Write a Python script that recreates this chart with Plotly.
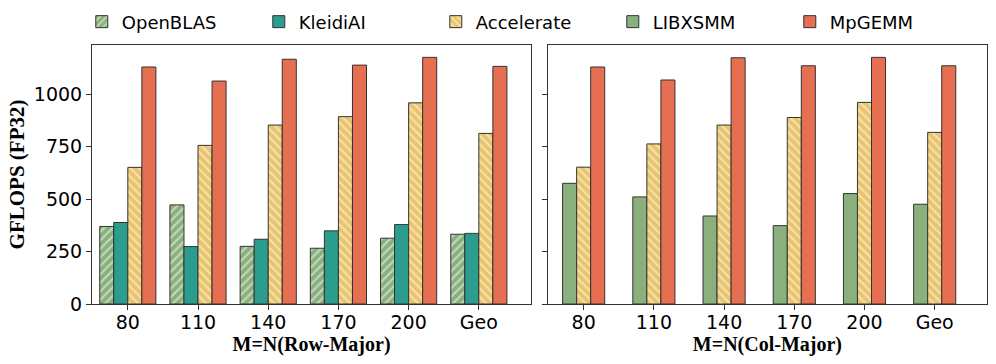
import plotly.graph_objects as go
from plotly.subplots import make_subplots

categories = ["80", "110", "140", "170", "200", "Geo"]

# Left panel: M=N (Row-Major)
openblas_row = [370, 473, 275, 266, 314, 333]
kleidiai_row = [389, 274, 309, 349, 379, 337]
accelerate_row = [652, 757, 854, 894, 960, 814]
mpgemm_row = [1131, 1064, 1168, 1140, 1177, 1134]

# Right panel: M=N (Col-Major)
libxsmm_col = [576, 511, 420, 374, 527, 476]
accelerate_col = [653, 764, 854, 890, 962, 819]
mpgemm_col = [1131, 1069, 1175, 1137, 1177, 1137]

y_ticks = [0, 250, 500, 750, 1000]

C_OPENBLAS = "#8AB17D"
C_KLEIDI = "#2A9D8F"
C_ACCEL = "#E9C46A"
C_LIBX = "#8AB17D"
C_MP = "#E76F51"
EDGE = "#333333"

xpos = list(range(len(categories)))

fig = make_subplots(rows=1, cols=2, shared_yaxes=False, horizontal_spacing=0.0187)

def bar(y, name, color, width, offset, pattern=None, showlegend=True):
    marker = dict(color=color, line=dict(color=EDGE, width=1))
    if pattern:
        marker["pattern"] = dict(shape=pattern, fgcolor="white", size=6, solidity=0.35)
    return go.Bar(x=xpos, y=y, name=name, width=width, offset=offset,
                  marker=marker, showlegend=showlegend, legendgroup=name)

W = 0.2
fig.add_trace(bar(openblas_row, "OpenBLAS", C_OPENBLAS, W, -0.4, "/"), 1, 1)
fig.add_trace(bar(kleidiai_row, "KleidiAI", C_KLEIDI, W, -0.2), 1, 1)
fig.add_trace(bar(accelerate_row, "Accelerate", C_ACCEL, W, 0.0, "\\"), 1, 1)
fig.add_trace(bar(mpgemm_row, "MpGEMM", C_MP, W, 0.2, None, False), 1, 1)

fig.add_trace(bar(libxsmm_col, "LIBXSMM", C_LIBX, W, -0.3), 1, 2)
fig.add_trace(bar(accelerate_col, "Accelerate", C_ACCEL, W, -0.1, "\\", False), 1, 2)
fig.add_trace(bar(mpgemm_col, "MpGEMM", C_MP, W, 0.1), 1, 2)

tickfont = dict(family="DejaVu Sans", size=19, color="black")
titlefont = dict(family="Liberation Serif", size=20, color="black")

axis_common = dict(showline=True, linecolor=EDGE, linewidth=1, mirror=True,
                   ticks="outside", ticklen=5, tickcolor=EDGE, tickwidth=1,
                   showgrid=False, zeroline=False, tickfont=tickfont, automargin=False)

fig.update_xaxes(**axis_common, tickmode="array", tickvals=xpos, ticktext=categories,
                 range=[-0.51, 5.745], ticklabelstandoff=-4)
fig.update_yaxes(**axis_common, range=[0, 1236], tickmode="array", tickvals=y_ticks)

fig.update_xaxes(title=dict(text="<b>M=N(Row-Major)</b>", font=titlefont, standoff=2), row=1, col=1)
fig.update_xaxes(title=dict(text="<b>M=N(Col-Major)</b>", font=titlefont, standoff=2), row=1, col=2)
fig.update_yaxes(title=dict(text="<b>GFLOPS (FP32)</b>", font=dict(family="Liberation Serif", size=21, color="black"), standoff=3), row=1, col=1)
fig.update_yaxes(showticklabels=False, row=1, col=2)

fig.update_layout(
    width=996, height=364,
    margin=dict(l=92, r=9, t=45, b=60, autoexpand=False),
    plot_bgcolor="white", paper_bgcolor="white",
    barmode="overlay",
    legend=dict(orientation="h", x=0.483, xanchor="center", y=1.089, yanchor="middle",
                font=dict(family="DejaVu Sans", size=18, color="black"),
                entrywidth=132, entrywidthmode="pixels", traceorder="normal",
                bgcolor="rgba(0,0,0,0)"),
)

fig.write_html("out.html", config={"displayModeBar": False},
               post_script="document.body.style.margin='0';document.body.style.overflow='hidden';")
